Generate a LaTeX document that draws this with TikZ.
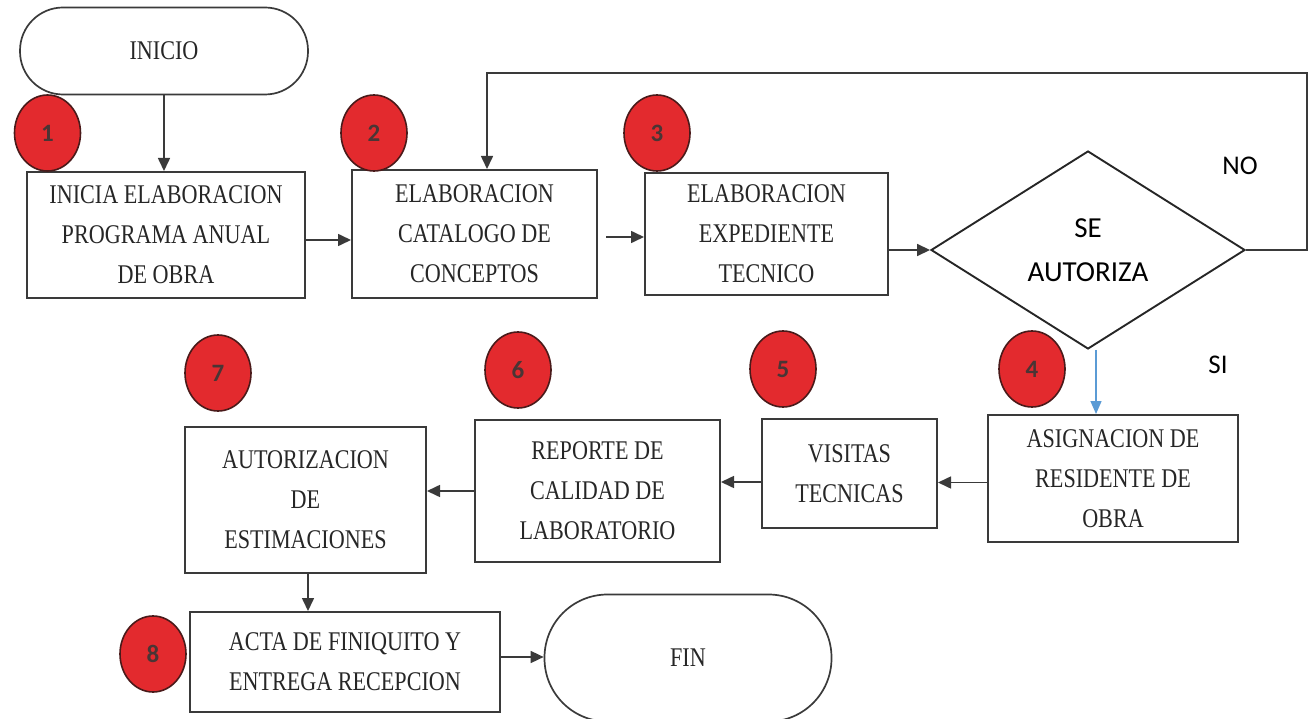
\documentclass[tikz,border=0pt]{standalone}
\usepackage{fontspec}
\setmainfont[FakeStretch=0.82]{Liberation Serif}
\newfontfamily\calib{Carlito}
\usetikzlibrary{shapes.geometric,arrows.meta}
\definecolor{linec}{HTML}{3A3A3A}
\definecolor{redc}{HTML}{E32A2E}
\definecolor{redline}{HTML}{4A1A1A}
\definecolor{numc}{HTML}{4A3535}
\definecolor{bluec}{HTML}{5B9BD5}
\tikzset{
  box/.style={draw=linec, line width=2pt, rectangle, align=center, inner sep=0pt,
    text=black!85, font=\fontsize{27}{40}\selectfont},
  term/.style={draw=linec, line width=1.7pt, rectangle, align=center, inner sep=0pt,
    text=black!85, font=\fontsize{27}{40}\selectfont},
  badge/.style={ellipse, draw=redline, line width=1.6pt, fill=redc, inner sep=0pt,
    minimum width=66pt, minimum height=76pt, text=numc, font=\calib\bfseries\fontsize{25}{28}\selectfont},
  arr/.style={draw=linec, line width=1.6pt, -{Triangle[length=13pt,width=12pt]}},
  lbl/.style={font=\calib\fontsize{27}{30}\selectfont, text=black}
}
\begin{document}
\begin{tikzpicture}[x=1pt,y=-1pt]
\useasboundingbox (0,0) rectangle (1316,719);
% terminals
\node[term, rounded corners=43pt, minimum width=288pt, minimum height=87pt] (ini) at (164,51) {INICIO};
\node[term, rounded corners=63pt, minimum width=287pt, minimum height=127pt] (fin) at (688,658) {FIN};
% boxes
\node[box, minimum width=278pt, minimum height=126pt] (b1) at (166,235) {INICIA ELABORACION\\PROGRAMA ANUAL\\DE OBRA};
\node[box, minimum width=245pt, minimum height=128pt] (b2) at (474.5,234) {ELABORACION\\CATALOGO DE\\CONCEPTOS};
\node[box, minimum width=243pt, minimum height=122pt] (b3) at (766.5,234) {ELABORACION\\EXPEDIENTE\\TECNICO};
\node[diamond, draw=black!85, line width=1.9pt, minimum width=314pt, minimum height=198pt, inner sep=0pt,
  font=\calib\fontsize{29}{44}\selectfont, align=center] (dia) at (1088,250) {SE\\AUTORIZA};
\node[box, minimum width=250pt, minimum height=127pt] (b4) at (1113,478.5) {ASIGNACION DE\\RESIDENTE DE\\OBRA};
\node[box, minimum width=175pt, minimum height=109pt] (b5) at (849.5,473.5) {VISITAS\\TECNICAS};
\node[box, minimum width=245pt, minimum height=142pt] (b6) at (597.5,491) {REPORTE DE\\CALIDAD DE\\LABORATORIO};
\node[box, minimum width=241pt, minimum height=146pt] (b7) at (305.5,500) {AUTORIZACION\\DE\\ESTIMACIONES};
\node[box, minimum width=310pt, minimum height=100pt] (b8) at (345,662) {ACTA DE FINIQUITO Y\\ENTREGA RECEPCION};
% badges
\node[badge] (c1) at (47.5,133) {1};
\node[badge] (c2) at (374,133) {2};
\node[badge] (c3) at (657,133) {3};
\node[badge] (c4) at (1032,369) {4};
\node[badge] (c5) at (783,369) {5};
\node[badge] (c6) at (518,370) {6};
\node[badge] (c7) at (218,373) {7};
\node[badge] (c8) at (153,654) {8};
% labels
\node[lbl] (no) at (1240,166) {NO};
\node[lbl] (si) at (1218,365) {SI};
% connectors
\draw[arr] (ini.south) -- (ini.south |- b1.north);
\draw[arr] ([yshift=-5pt]b1.east) -- ([yshift=-5pt]b1.east -| b2.west);
\draw[arr] ([yshift=-3pt,xshift=8pt]b2.east) -- ([yshift=-3pt]b2.east -| b3.west);
\draw[arr] (b3.east |- dia.west) -- (dia.west);
\coordinate (l1) at (1307,73);
\coordinate (l2) at (487,73);
\draw[arr] (dia.east) -| (l1) -- (l2) -- (l2 |- b2.north);
\draw[draw=bluec, line width=1.4pt, -{Triangle[length=13pt,width=11pt]}] ([xshift=8pt]dia.south) -- ([xshift=8pt]dia.south |- b4.north);
\draw[arr] ([yshift=-4pt]b4.west) -- ([yshift=-4pt]b4.west -| b5.east);
\draw[arr] ([yshift=-8.5pt]b5.west) -- ([yshift=-8.5pt]b5.west -| b6.east);
\draw[arr] (b6.west) -- (b6.west -| b7.east);
\draw[arr] ([xshift=2.5pt]b7.south) -- ([xshift=2.5pt]b7.south |- b8.north);
\draw[arr] ([yshift=5pt]b8.east) -- ([yshift=5pt]b8.east -| fin.west);
\end{tikzpicture}
\end{document}
